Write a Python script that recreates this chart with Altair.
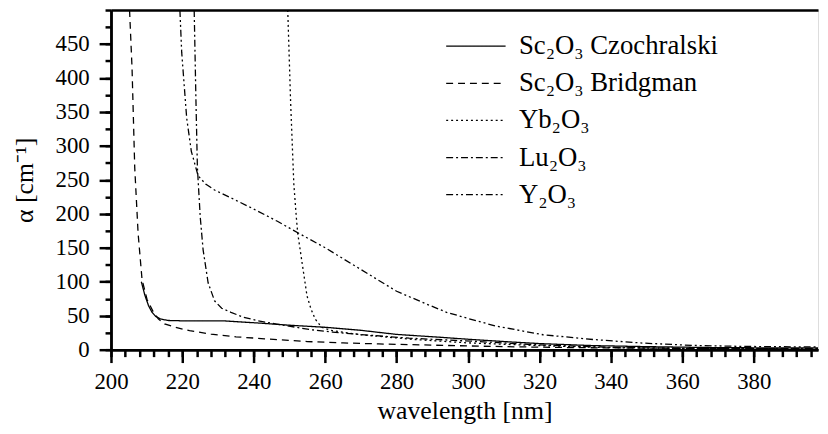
import altair as alt
import pandas as pd

series_names = ["Sc₂O₃ Czochralski", "Sc₂O₃ Bridgman", "Yb₂O₃", "Lu₂O₃", "Y₂O₃"]
dash_range = [[1, 0], [7, 5], [2, 3], [7, 3, 2, 3], [7, 3, 2, 3, 2, 3]]

czo_wl = [208.5, 209.5, 210.5, 211.5, 212.5, 214, 216, 220, 226, 232, 242, 250, 260, 270, 280, 293, 301, 310, 320, 335, 350, 370, 398]
czo_a = [100, 80, 65, 55, 49, 45, 43, 42.5, 42.5, 42.3, 39, 36, 33, 28.5, 22.5, 18, 15, 12, 9, 6, 4.5, 3, 2.5]

bri_wl = [205.2, 205.9, 206.65, 207.6, 208.7, 210.1, 211.9, 213.3, 215, 218, 222, 228, 235, 243, 255, 265, 275, 293, 310, 330, 360, 398]
bri_a = [500, 414, 268, 171, 103, 74, 55, 45, 38, 33, 28, 23, 19, 16, 12, 10, 8.5, 6.3, 4.5, 3, 2, 1.5]

yb_wl = [249.5, 250.3, 251.2, 251.9, 252.3, 253.8, 254.9, 256, 257.2, 259, 262, 270, 285, 300, 320, 340, 360, 398]
yb_a = [500, 365, 244, 195, 171, 118, 79, 60, 45, 33, 28, 22, 15, 10, 6, 3, 2, 1.5]

lu_wl = [223.3, 223.8, 224.2, 225, 225.8, 227.2, 229, 231, 233.6, 237, 241, 246, 255.8, 262, 269.7, 283.5, 301, 320, 340, 360, 398]
lu_a = [500, 365, 268, 195, 147, 98.5, 72, 61, 55, 48, 42.7, 38, 29.6, 26, 22.3, 17, 12.5, 7, 3.5, 2, 1]

y_wl = [219.3, 219.8, 221.2, 222.5, 224.4, 226.5, 229, 233, 240, 246.6, 251, 260, 270, 280, 288, 294, 300, 307.6, 321, 335, 349, 363, 377, 398]
y_a = [500, 438, 341, 292, 256, 244, 235, 225, 207, 189, 176, 150, 118, 86, 68, 55, 46, 35, 22, 15, 9.7, 6.3, 4.8, 4]

x_major = list(range(200, 400, 20))
x_minor = list(range(200, 400, 4))
y_major = list(range(0, 451, 50))
y_minor = list(range(0, 501, 25))

rows = []
for name, wl, a in zip(series_names,
                       [czo_wl, bri_wl, yb_wl, lu_wl, y_wl],
                       [czo_a, bri_a, yb_a, lu_a, y_a]):
    for i, (w, v) in enumerate(zip(wl, a)):
        rows.append({"wl": w, "a": v, "series": name, "idx": i})
df = pd.DataFrame(rows)

FONT = "Liberation Serif"
x_scale = alt.Scale(domain=[200, 398], nice=False, zero=False)
y_scale = alt.Scale(domain=[0, 500], nice=False, zero=False)

axis_style = dict(domainColor="black", domainWidth=2.5, tickColor="black", tickWidth=2.5,
                  labelFont=FONT, labelColor="black", titleFont=FONT, titleColor="black",
                  titleFontWeight="normal", grid=False, labelFlush=False, labelOverlap=False)

base = alt.Chart(df)

lines = base.mark_line(color="black", strokeWidth=1.3, clip=True).encode(
    x=alt.X("wl:Q", scale=x_scale,
            axis=alt.Axis(values=x_major, orient="bottom", title="wavelength [nm]", tickSize=13,
                          labelFontSize=23, labelPadding=8, titleFontSize=26, titlePadding=4,
                          **axis_style)),
    y=alt.Y("a:Q", scale=y_scale,
            axis=alt.Axis(values=y_major, orient="left", title="α [cm⁻¹]", tickSize=12,
                          labelFontSize=23, labelPadding=10, titleFontSize=26, titlePadding=18,
                          **axis_style)),
    strokeDash=alt.StrokeDash("series:N",
                              scale=alt.Scale(domain=series_names, range=dash_range),
                              legend=alt.Legend(title=None, orient="none", legendX=355, legendY=23,
                                                symbolType="M-3,0H3", symbolSize=400,
                                                symbolStrokeWidth=1.3, symbolStrokeColor="black",
                                                symbolFillColor="transparent",
                                                labelFont=FONT, labelFontSize=27, labelColor="black",
                                                labelLimit=500, labelOffset=30, rowPadding=9.5,
                                                padding=0)),
    order="idx:Q",
)

minor = base.mark_line(strokeOpacity=0).encode(
    x=alt.X("wl:Q", scale=x_scale,
            axis=alt.Axis(values=x_minor, orient="bottom", title=None, labels=False, tickSize=7,
                          **axis_style)),
    y=alt.Y("a:Q", scale=y_scale,
            axis=alt.Axis(values=y_minor, orient="left", title=None, labels=False, tickSize=6,
                          **axis_style)),
)

top = base.mark_line(strokeOpacity=0).encode(
    x=alt.X("wl:Q", scale=x_scale,
            axis=alt.Axis(orient="top", title=None, labels=False, ticks=False, domainColor="black",
                          domainWidth=2.5, grid=False)),
    y=alt.Y("a:Q", scale=y_scale, axis=None),
)

chart = alt.layer(lines, minor, top).resolve_scale(x="shared", y="shared").resolve_axis(
    x="independent", y="independent"
).properties(
    width=714, height=343,
    autosize=alt.AutoSizeParams(type="none"),
    padding={"left": 104, "top": 0, "right": 2, "bottom": 75},
).configure_view(stroke=None).configure(background="white", font=FONT).configure_axis(
    labelFont=FONT, titleFont=FONT
).configure_legend(labelFont=FONT)

chart.save("out.html", embed_options={"renderer": "svg", "actions": False})
